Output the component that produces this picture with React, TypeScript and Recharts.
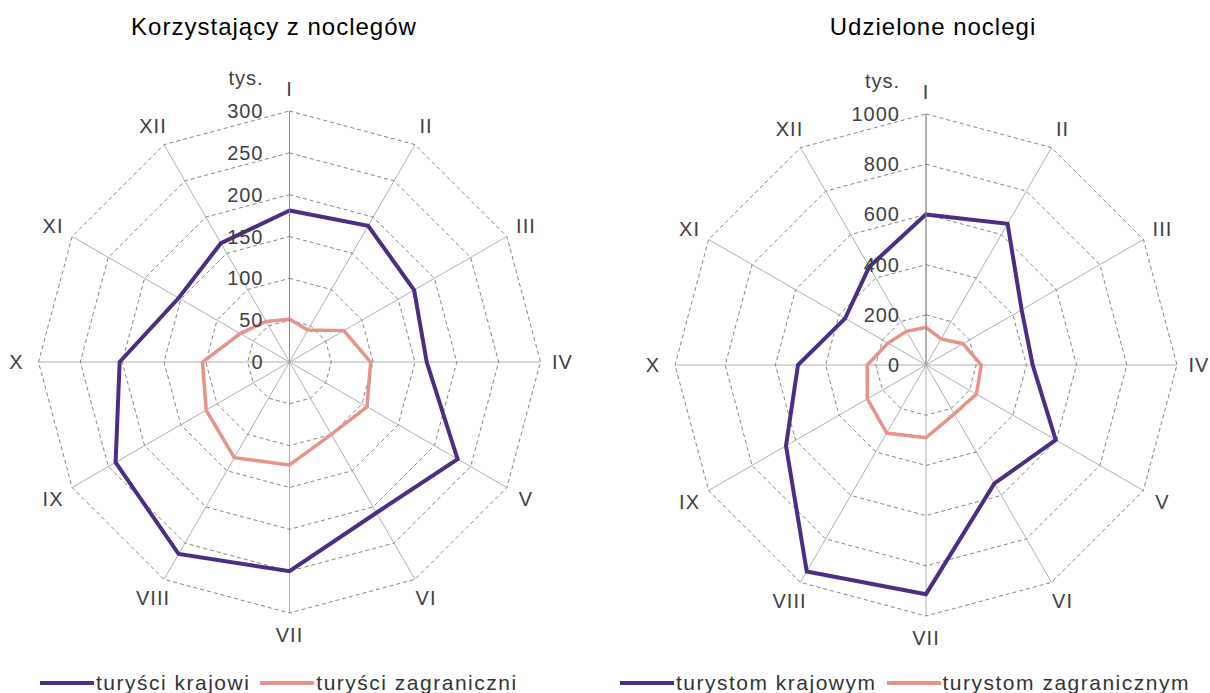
import {
  Legend,
  PolarAngleAxis,
  PolarGrid,
  PolarRadiusAxis,
  Radar,
  RadarChart,
} from "recharts";

const months = ["I", "II", "III", "IV", "V", "VI", "VII", "VIII", "IX", "X", "XI", "XII"];

// Korzystający z noclegów (tys.)
const guestsDomestic = [181, 188, 172, 164, 232, 208, 250, 265, 240, 203, 153, 164];
const guestsForeign = [51, 44, 75, 97, 107, 100, 123, 132, 115, 104, 68, 56];
const guestTicks = [0, 50, 100, 150, 200, 250, 300];

// Udzielone noclegi (tys.)
const nightsDomestic = [600, 650, 440, 425, 597, 545, 913, 950, 644, 510, 372, 452];
const nightsForeign = [150, 120, 170, 220, 232, 225, 290, 313, 270, 234, 175, 155];
const nightTicks = [0, 200, 400, 600, 800, 1000];

const FONT = '"Liberation Sans", Arial, sans-serif';
const PURPLE = "#4b2d84";
const PINK = "#e8928c";
const LABEL = "#404040";
const R = 251;

type PanelProps = {
  left: number;
  cx: number;
  cy: number;
  title: string;
  titleX: number;
  ticks: number[];
  domestic: number[];
  foreign: number[];
  names: [string, string];
  legendX: number;
};

function Panel({ left, cx, cy, title, titleX, ticks, domestic, foreign, names, legendX }: PanelProps) {
  const data = months.map((m, i) => ({ month: m, dom: domestic[i], for: foreign[i] }));
  const max = ticks[ticks.length - 1];

  const angleTick = (props: any) => {
    const { x, y, payload } = props;
    const dx = x - cx;
    const dy = y - cy;
    const len = Math.hypot(dx, dy) || 1;
    return (
      <text
        x={cx + (dx / len) * (R + 22)}
        y={cy + (dy / len) * (R + 22)}
        textAnchor="middle"
        dominantBaseline="central"
        fill={LABEL}
        fontSize={20}
        letterSpacing={1}
        fontFamily={FONT}
      >
        {payload.value}
      </text>
    );
  };

  const radiusTick = (props: any) => {
    const { x, y, payload } = props;
    return (
      <g>
        <text
          x={x - 26}
          y={y}
          textAnchor="end"
          dominantBaseline="central"
          fill={LABEL}
          fontSize={20}
          letterSpacing={1}
          fontFamily={FONT}
        >
          {payload.value}
        </text>
        {payload.value === max && (
          <text
            x={x - 26}
            y={y - 33}
            textAnchor="end"
            dominantBaseline="central"
            fill={LABEL}
            fontSize={20}
            letterSpacing={1}
            fontFamily={FONT}
          >
            tys.
          </text>
        )}
      </g>
    );
  };

  const legendContent = (props: any) => (
    <div style={{ display: "flex", alignItems: "center", fontFamily: FONT, fontSize: 21, letterSpacing: 1.5, color: "#333" }}>
      {props.payload.map((entry: any) => (
        <div key={entry.value} style={{ display: "flex", alignItems: "center", marginRight: 10 }}>
          <span style={{ display: "inline-block", width: 54, height: 4, background: entry.color, marginRight: 2 }} />
          <span style={{ whiteSpace: "nowrap", lineHeight: "24px" }}>{entry.value}</span>
        </div>
      ))}
    </div>
  );

  // darker main cross (I–VII, X–IV), as in the source chart
  const crossAngles = [-90, 0, 180];

  return (
    <div style={{ position: "absolute", left, top: 0, width: 605, height: 693 }}>
      <div
        style={{
          position: "absolute",
          left: titleX - 200,
          width: 400,
          top: 13,
          textAlign: "center",
          fontFamily: FONT,
          fontSize: 24,
          letterSpacing: 1,
          lineHeight: "28px",
          color: "#000",
        }}
      >
        {title}
      </div>
      <RadarChart
        width={605}
        height={693}
        data={data}
        cx={cx}
        cy={cy}
        outerRadius={R}
        margin={{ top: 0, right: 0, bottom: 0, left: 0 }}
      >
        <PolarGrid gridType="polygon" polarRadius={[]} stroke="#b0b0b0" />
        <PolarGrid gridType="polygon" radialLines={false} stroke="#858585" strokeDasharray="4 3" />
        <PolarAngleAxis dataKey="month" tick={angleTick} tickLine={false} axisLine={false} />
        {crossAngles.map((a) => (
          <PolarRadiusAxis
            key={a}
            radiusAxisId={`cross${a}`}
            angle={a}
            domain={[0, max]}
            axisLine={{ stroke: "#8a8a8a" }}
            tickLine={false}
            tick={false}
          />
        ))}
        <PolarRadiusAxis
          angle={90}
          domain={[0, max]}
          ticks={ticks}
          tickCount={ticks.length}
          axisLine={{ stroke: "#8a8a8a" }}
          tickLine={false}
          tick={radiusTick}
        />
        <Radar
          name={names[0]}
          dataKey="dom"
          stroke={PURPLE}
          strokeWidth={4}
          fill="none"
          fillOpacity={0}
          dot={false}
          isAnimationActive={false}
        />
        <Radar
          name={names[1]}
          dataKey="for"
          stroke={PINK}
          strokeWidth={3.5}
          fill="none"
          fillOpacity={0}
          dot={false}
          isAnimationActive={false}
        />
        <Legend
          content={legendContent}
          wrapperStyle={{ left: legendX, top: 671, bottom: "auto", width: "auto" }}
        />
      </RadarChart>
    </div>
  );
}

export default function App() {
  return (
    <div style={{ position: "absolute", left: 0, top: 0, width: 1210, height: 693, background: "#fff", overflow: "hidden" }}>
      <Panel
        left={0}
        cx={289.5}
        cy={362}
        title="Korzystający z noclegów"
        titleX={274}
        ticks={guestTicks}
        domestic={guestsDomestic}
        foreign={guestsForeign}
        names={["turyści krajowi", "turyści zagraniczni"]}
        legendX={40}
      />
      <Panel
        left={605}
        cx={321}
        cy={365}
        title="Udzielone noclegi"
        titleX={328}
        ticks={nightTicks}
        domestic={nightsDomestic}
        foreign={nightsForeign}
        names={["turystom krajowym", "turystom zagranicznym"]}
        legendX={15}
      />
    </div>
  );
}
